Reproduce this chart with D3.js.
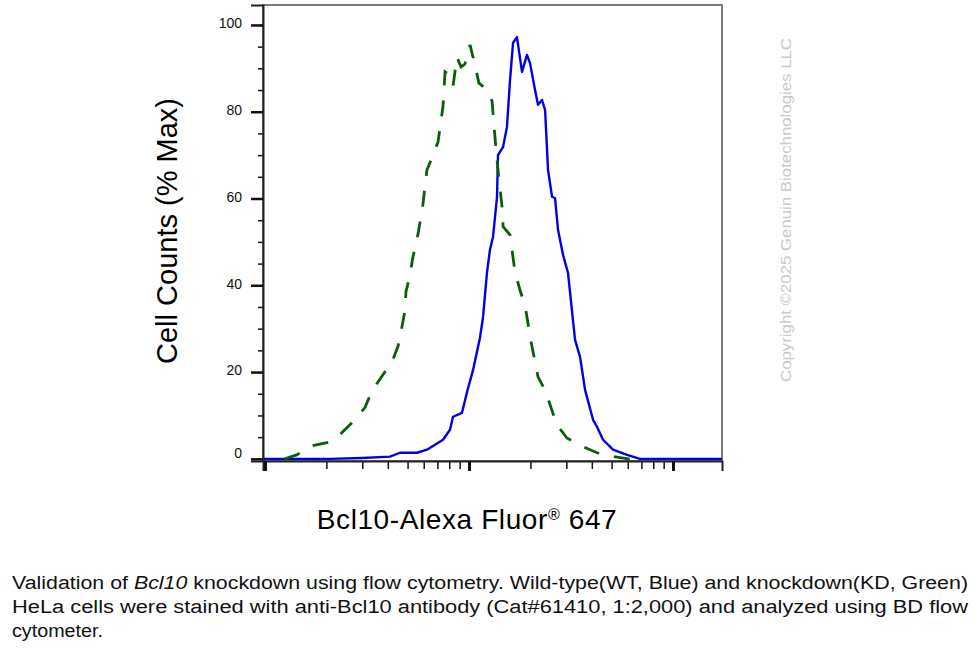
<!DOCTYPE html>
<html>
<head>
<meta charset="utf-8">
<script src="https://cdnjs.cloudflare.com/ajax/libs/d3/7.8.5/d3.min.js"></script>
<style>
  body { margin: 0; background: #fff; }
  text { font-family: "Liberation Sans", Arial, sans-serif; }
</style>
</head>
<body>
<div id="chart"></div>
<script>
// knockdown (KD, green dashed) histogram
var kdIntensity = [125, 143, 170, 208, 238, 273, 309, 335, 375, 420, 449, 469, 486, 491, 514, 531, 556, 575, 595, 622, 659, 705, 746, 763, 789, 835, 873, 914, 955, 1012, 1069, 1119, 1197, 1297, 1340, 1387, 1452, 1469, 1589, 1680, 1778, 1883, 2014, 2179, 2384, 2523, 2699, 3020, 3620, 4240, 5140, 6016, 7000];
var kdCounts = [0, 0.9, 3.0, 3.9, 6.0, 8.8, 11.8, 15.7, 19.1, 22.4, 26.0, 30.4, 34.3, 38.5, 42.4, 46.5, 50.5, 54.4, 58.8, 66.6, 69.4, 73.0, 81.3, 89.2, 88.7, 85.9, 92.6, 90.3, 91.0, 95.4, 90.8, 86.6, 85.5, 82.5, 74.2, 66.6, 58.1, 53.5, 51.6, 43.1, 38.9, 35.3, 27.0, 18.9, 15.4, 11.8, 7.8, 4.8, 2.8, 1.4, 0.5, 0, 0];

// wild-type (WT, blue solid) histogram
var wtIntensity = [98, 208, 299, 410, 459, 556, 622, 746, 807, 835, 924, 978, 1047, 1132, 1172, 1225, 1267, 1312, 1372, 1387, 1469, 1535, 1589, 1644, 1718, 1819, 1923, 1991, 2107, 2179, 2280, 2360, 2440, 2553, 2641, 2731, 2890, 3056, 3310, 3502, 3706, 4055, 4240, 4539, 5082, 5953, 6887, 17380];
var wtCounts = [0, 0, 0.2, 0.5, 1.4, 1.4, 2.1, 4.4, 6.7, 9.7, 10.6, 15.4, 20.5, 27.9, 32.7, 42.9, 48.2, 51.2, 60.4, 70.0, 71.9, 76.5, 87.3, 95.9, 97.2, 89.2, 93.1, 91.2, 85.0, 81.6, 82.7, 80.4, 66.6, 60.4, 60.1, 52.8, 47.0, 42.9, 27.4, 23.5, 15.9, 9.0, 7.4, 4.4, 2.1, 0.9, 0, 0];

var yMajorTicks = [0, 20, 40, 60, 80, 100];
var yMinorTicks = d3.range(0, 101, 5);
var xMajorTicks = [100, 1000, 10000];

var xTitle = "Bcl10-Alexa Fluor";
var yTitle = "Cell Counts (% Max)";
var watermark = "Copyright \u00a92025 Genuin Biotechnologies LLC";

var W = 980, H = 671;
var plot = {left: 263, right: 722, top: 5, bottom: 461};

var svg = d3.select("#chart").append("svg")
    .attr("width", W)
    .attr("height", H);

var x = d3.scaleLog()
    .domain([97.8, 17380])
    .range([plot.left, plot.right]);
var y = d3.scaleLinear()
    .domain([-0.5, 104.6])
    .range([plot.bottom, plot.top]);

// frame
svg.append("rect")
    .attr("x", plot.left)
    .attr("y", plot.top)
    .attr("width", plot.right - plot.left)
    .attr("height", plot.bottom - plot.top)
    .attr("fill", "none")
    .attr("stroke", "#7a7a7a")
    .attr("stroke-width", 2);

var line = d3.line()
    .x(function(d) { return x(d[0]); })
    .y(function(d) { return y(d[1]); });

svg.append("path")
    .datum(wtIntensity.map(function(v, i) { return [v, wtCounts[i]]; }))
    .attr("d", line)
    .attr("fill", "none")
    .attr("stroke", "#0000e6")
    .attr("stroke-width", 2.4)
    .attr("stroke-linejoin", "round");

svg.append("path")
    .datum(kdIntensity.map(function(v, i) { return [v, kdCounts[i]]; }))
    .attr("d", line)
    .attr("fill", "none")
    .attr("stroke", "#0a5e0a")
    .attr("stroke-width", 2.8)
    .attr("stroke-dasharray", "16,15");

// y axis: minor then major
var yMinor = d3.axisLeft(y).tickValues(yMinorTicks).tickSize(5).tickFormat("");
var yMajor = d3.axisLeft(y).tickValues(yMajorTicks).tickSize(12).tickPadding(9);

svg.append("g")
    .attr("transform", "translate(" + plot.left + ",0)")
    .call(yMinor)
    .call(function(g) { g.select(".domain").remove(); })
    .selectAll("line").attr("stroke", "#111").attr("stroke-width", 1.5);

var yg = svg.append("g")
    .attr("transform", "translate(" + plot.left + ",0)")
    .call(yMajor);
yg.select(".domain").attr("stroke", "#222").attr("stroke-width", 2);
yg.selectAll(".tick line").attr("stroke", "#111").attr("stroke-width", 2.5);
yg.selectAll(".tick text")
    .style("font-size", "14px")
    .style("font-family", "'Liberation Sans', Arial, sans-serif")
    .attr("fill", "#111")
    .attr("dy", "0.2em");
yg.selectAll(".tick").filter(function(d) { return d === 0; }).select("text").attr("dy", "-0.1em");

// x axis: minor then major, no labels
var xMinor = d3.axisBottom(x).tickValues(x.ticks()).tickSize(8).tickFormat("");
var xMajor = d3.axisBottom(x).tickValues(xMajorTicks).tickSize(10).tickFormat("");

svg.append("g")
    .attr("transform", "translate(0," + plot.bottom + ")")
    .call(xMinor)
    .call(function(g) { g.select(".domain").remove(); })
    .selectAll("line").attr("stroke", "#111").attr("stroke-width", 1.5);

var xg = svg.append("g")
    .attr("transform", "translate(0," + plot.bottom + ")")
    .call(xMajor);
xg.select(".domain").attr("stroke", "#222").attr("stroke-width", 2);
xg.selectAll(".tick line").attr("stroke", "#111").attr("stroke-width", 3);

// titles
svg.append("text")
    .attr("transform", "translate(177,231) rotate(-90)")
    .attr("text-anchor", "middle")
    .style("font-size", "29px")
    .attr("fill", "#000")
    .text(yTitle);

var xt = svg.append("text")
    .attr("x", 467)
    .attr("y", 529)
    .attr("text-anchor", "middle")
    .style("font-size", "28px")
    .style("letter-spacing", "0.6px")
    .attr("fill", "#000");
xt.append("tspan").text(xTitle);
xt.append("tspan").attr("dy", "-9px").style("font-size", "16px").text("\u00ae");
xt.append("tspan").attr("dy", "9px").text(" 647");

// watermark
svg.append("text")
    .attr("transform", "translate(791,210) rotate(-90)")
    .attr("text-anchor", "middle")
    .style("font-size", "14px")
    .attr("fill", "#c9c9c9")
    .attr("textLength", 344)
    .attr("lengthAdjust", "spacingAndGlyphs")
    .text(watermark);

// caption
var caption = svg.append("g")
    .style("font-family", "'Liberation Sans Narrow', 'Arial Narrow', 'Liberation Sans', sans-serif")
    .style("font-size", "18px")
    .attr("fill", "#111");

var c1 = caption.append("text").attr("x", 12).attr("y", 589)
    .attr("textLength", 956).attr("lengthAdjust", "spacingAndGlyphs");
c1.append("tspan").text("Validation of ");
c1.append("tspan").style("font-style", "italic").text("Bcl10");
c1.append("tspan").text(" knockdown using flow cytometry. Wild-type(WT, Blue) and knockdown(KD, Green)");

caption.append("text").attr("x", 12).attr("y", 613)
    .attr("textLength", 956).attr("lengthAdjust", "spacingAndGlyphs")
    .text("HeLa cells were stained with anti-Bcl10 antibody (Cat#61410, 1:2,000) and analyzed using BD flow");

caption.append("text").attr("x", 12).attr("y", 637)
    .attr("textLength", 91).attr("lengthAdjust", "spacingAndGlyphs")
    .text("cytometer.");
</script>
</body>
</html>
